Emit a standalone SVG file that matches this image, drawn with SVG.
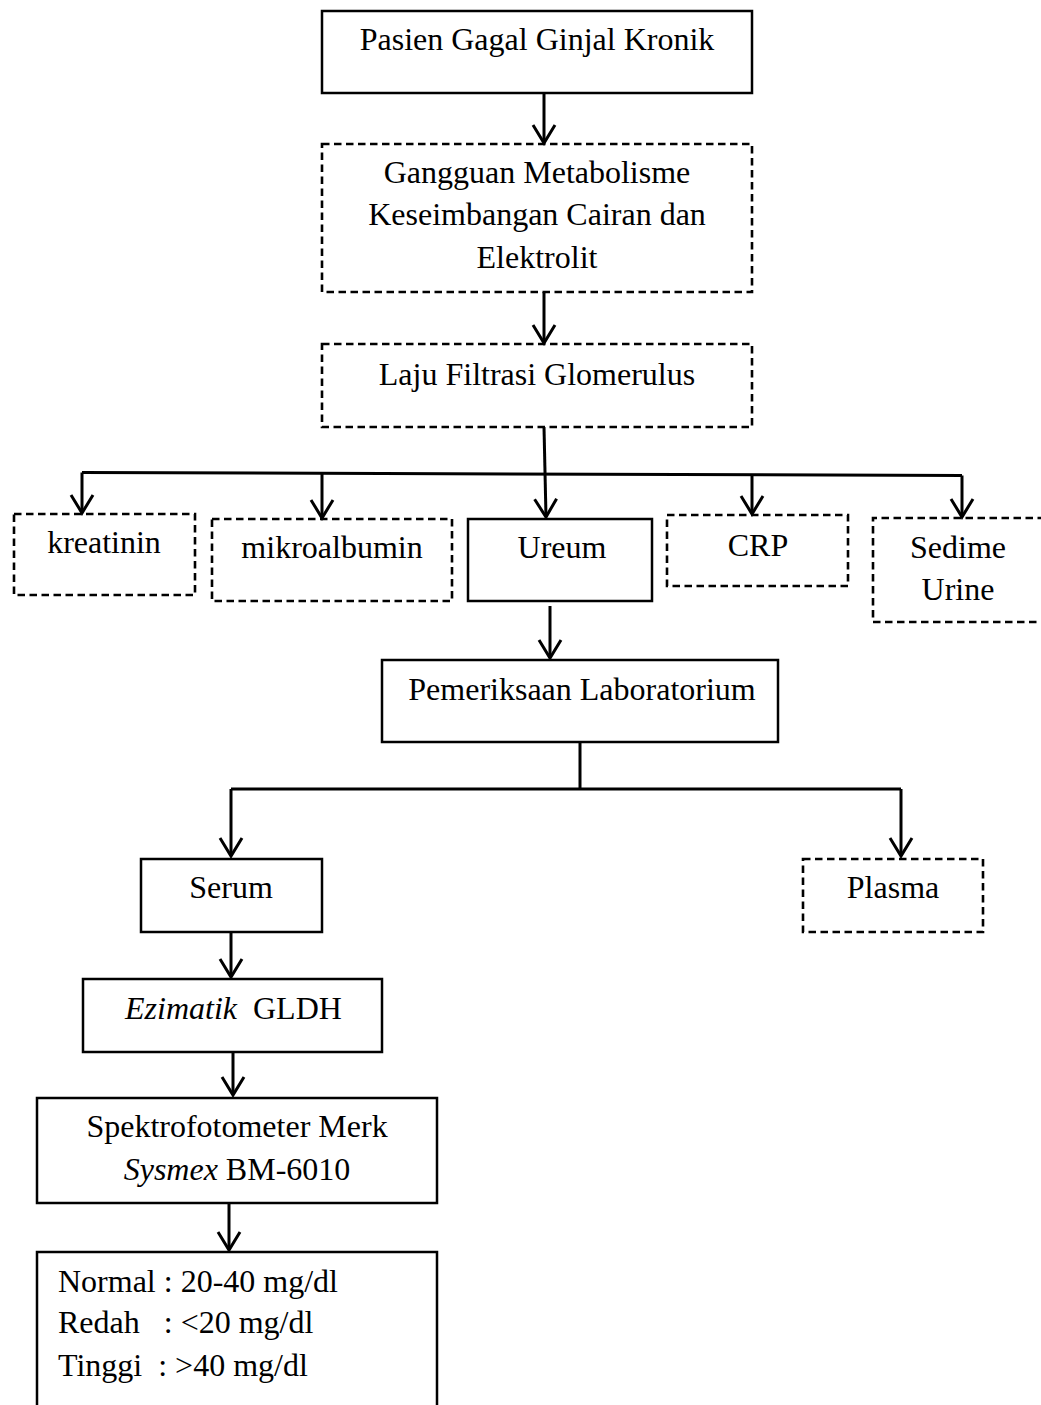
<svg xmlns="http://www.w3.org/2000/svg" width="1041" height="1405" viewBox="0 0 1041 1405">
<style>
.box{fill:none;stroke:#000;stroke-width:2.5}
.dash{fill:none;stroke:#000;stroke-width:2.6;stroke-dasharray:7.5 4.5}
.con{fill:none;stroke:#000;stroke-width:3}
.arr{marker-end:url(#ah)}
text{font-family:"Liberation Serif","Times New Roman",serif;font-size:32px;fill:#000}
.c{text-anchor:middle}
.i{font-style:italic}
</style>
<defs>
<marker id="ah" markerUnits="userSpaceOnUse" markerWidth="40" markerHeight="40" refX="0" refY="0" orient="auto" overflow="visible">
<path d="M-18,-11 L0,0 L-18,11" fill="none" stroke="#000" stroke-width="3"/>
</marker>
</defs>
<rect width="1041" height="1405" fill="#fff"/>
<g id="connectors">
<path class="con arr" d="M544,93 V143"/>
<path class="con arr" d="M544,292 V343"/>
<path class="con arr" d="M544,427 L546,517"/>
<path class="con" d="M82,472.5 L962,475.5"/>
<path class="con arr" d="M82,472.5 V513"/>
<path class="con arr" d="M322,474 V518"/>
<path class="con arr" d="M752,474 V514"/>
<path class="con arr" d="M962,475.5 V517"/>
<path class="con arr" d="M550,606 V658"/>
<path class="con" d="M580,742 V789"/>
<path class="con" d="M231,789 H901"/>
<path class="con arr" d="M231,789 V856"/>
<path class="con arr" d="M901,789 V856"/>
<path class="con arr" d="M231,932 V977"/>
<path class="con arr" d="M233,1052 V1095"/>
<path class="con arr" d="M229,1203 V1250"/>
</g>
<g id="n-pasien">
<rect class="box" x="322" y="11" width="430" height="82"/>
<text class="c" x="537" y="50">Pasien Gagal Ginjal Kronik</text>
</g>
<g id="n-gangguan">
<rect class="dash" x="322" y="144" width="430" height="148"/>
<text class="c" x="537" y="183">Gangguan Metabolisme</text>
<text class="c" x="537" y="225">Keseimbangan Cairan dan</text>
<text class="c" x="537" y="268">Elektrolit</text>
</g>
<g id="n-laju">
<rect class="dash" x="322" y="344" width="430" height="83"/>
<text class="c" x="537" y="385">Laju Filtrasi Glomerulus</text>
</g>
<g id="n-kreatinin">
<rect class="dash" x="14" y="514" width="181" height="81"/>
<text class="c" x="104" y="553">kreatinin</text>
</g>
<g id="n-mikroalbumin">
<rect class="dash" x="212" y="519" width="240" height="82"/>
<text class="c" x="332" y="558">mikroalbumin</text>
</g>
<g id="n-ureum">
<rect class="box" x="468" y="519" width="184" height="82"/>
<text class="c" x="562" y="558">Ureum</text>
</g>
<g id="n-crp">
<rect class="dash" x="667" y="515" width="181" height="71"/>
<text class="c" x="758" y="556">CRP</text>
</g>
<g id="n-sedime">
<path class="dash" d="M1045,518 H873 V622 H1045"/>
<text class="c" x="958" y="558">Sedime</text>
<text class="c" x="958" y="600">Urine</text>
</g>
<g id="n-pemeriksaan">
<rect class="box" x="382" y="660" width="396" height="82"/>
<text class="c" x="582" y="700">Pemeriksaan Laboratorium</text>
</g>
<g id="n-serum">
<rect class="box" x="141" y="859" width="181" height="73"/>
<text class="c" x="231" y="898">Serum</text>
</g>
<g id="n-plasma">
<rect class="dash" x="803" y="859" width="180" height="73"/>
<text class="c" x="893" y="898">Plasma</text>
</g>
<g id="n-ezimatik">
<rect class="box" x="83" y="979" width="299" height="73"/>
<text x="125" y="1019" xml:space="preserve"><tspan class="i">Ezimatik</tspan>  GLDH</text>
</g>
<g id="n-spektro">
<rect class="box" x="37" y="1098" width="400" height="105"/>
<text class="c" x="237" y="1137">Spektrofotometer Merk</text>
<text class="c" x="237" y="1180"><tspan class="i">Sysmex</tspan> BM-6010</text>
</g>
<g id="n-hasil">
<path class="box" d="M37,1410 V1252 H437 V1410"/>
<text x="58" y="1292" xml:space="preserve">Normal : 20-40 mg/dl</text>
<text x="58" y="1333" xml:space="preserve">Redah   : &lt;20 mg/dl</text>
<text x="58" y="1376" xml:space="preserve">Tinggi  : &gt;40 mg/dl</text>
</g>
</svg>
